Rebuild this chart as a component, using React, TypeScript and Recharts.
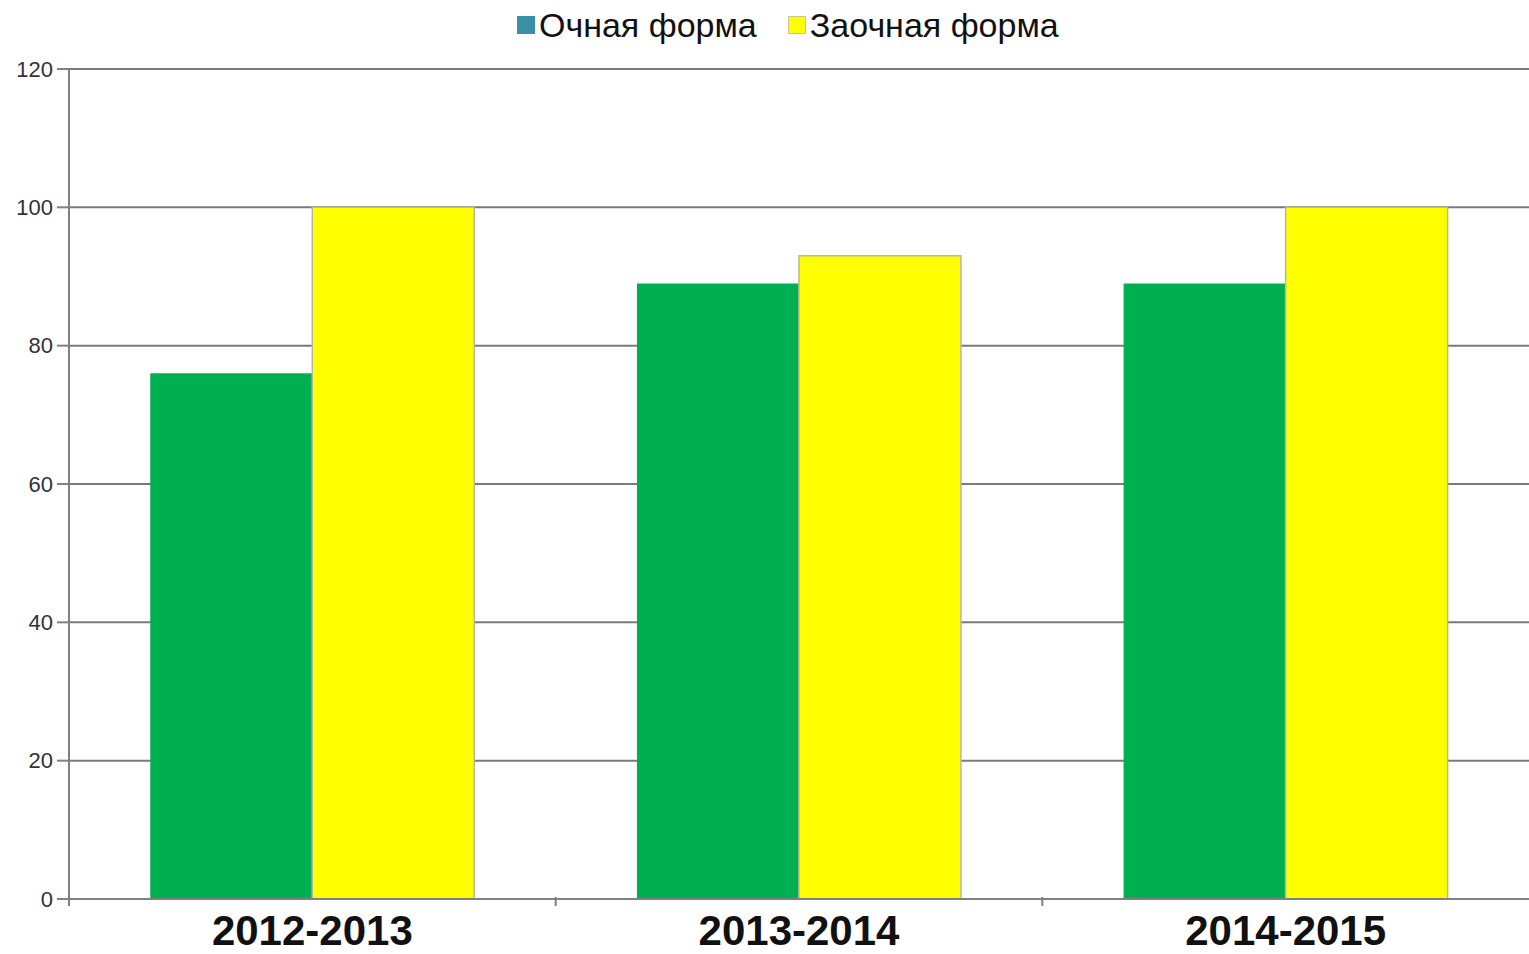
import { BarChart, Bar, XAxis, YAxis, CartesianGrid } from 'recharts';

const years = ['2012-2013', '2013-2014', '2014-2015'];
const fullTime = [76, 89, 89];
const partTime = [100, 93, 100];
const yTicks = [0, 20, 40, 60, 80, 100, 120];

const SERIES = [
  { key: 'fullTime', name: 'Очная форма', fill: '#00b050', swatch: '#3a8fa6', stroke: 'none' },
  { key: 'partTime', name: 'Заочная форма', fill: '#ffff00', swatch: '#ffff00', stroke: '#b8b8a0' },
];

const FONT = '"Liberation Sans", Arial, sans-serif';
const WIDTH = 1529;
const Y_AXIS_W = 69;
const BAND = (WIDTH - Y_AXIS_W) / years.length;

// category tick: tick mark sits on the left boundary of each band, label centered
function YearTick(props: any) {
  const { x, y, payload } = props;
  const left = x - BAND / 2;
  return (
    <g>
      <line x1={left} y1={y - 8} x2={left} y2={y + 1} stroke="#808080" strokeWidth={2} />
      <text
        x={x}
        y={y + 40}
        textAnchor="middle"
        fontSize={42}
        fontWeight="bold"
        fill="#111"
        fontFamily={FONT}
      >
        {payload.value}
      </text>
    </g>
  );
}

export default function App() {
  const data = years.map((year, i) => ({
    year,
    fullTime: fullTime[i],
    partTime: partTime[i],
  }));

  return (
    <div style={{ position: 'absolute', left: 0, top: 0, width: WIDTH, height: 954, background: '#fff', fontFamily: FONT }}>
      <div
        style={{
          position: 'absolute',
          top: 5,
          left: 517,
          display: 'flex',
          gap: 31,
          fontSize: 34,
          lineHeight: '40px',
          color: '#111',
          zIndex: 2,
          whiteSpace: 'nowrap',
        }}
      >
        {SERIES.map(s => (
          <span key={s.key} style={{ display: 'flex', alignItems: 'center' }}>
            <span
              style={{
                display: 'inline-block',
                width: 18,
                height: 18,
                background: s.swatch,
                border: s.key === 'partTime' ? '1px solid #c8c890' : 'none',
                boxSizing: 'border-box',
                marginRight: 4,
              }}
            />
            {s.name}
          </span>
        ))}
      </div>
      <BarChart
        width={WIDTH}
        height={954}
        data={data}
        margin={{ top: 69, right: 0, left: 0, bottom: 0 }}
        barCategoryGap="16.7%"
        barGap={0}
      >
        <CartesianGrid vertical={false} stroke="#7a7a7a" strokeWidth={2} />
        <XAxis
          dataKey="year"
          height={55}
          axisLine={{ stroke: '#808080', strokeWidth: 2 }}
          tickLine={false}
          interval={0}
          tick={<YearTick />}
          tickMargin={0}
        />
        <YAxis
          width={Y_AXIS_W}
          domain={[0, 120]}
          ticks={yTicks}
          interval={0}
          axisLine={{ stroke: '#808080', strokeWidth: 2 }}
          tickLine={{ stroke: '#808080', strokeWidth: 2 }}
          tickSize={12}
          tickMargin={4}
          tick={{ fontSize: 22, fill: '#333', fontFamily: FONT }}
        />
        {SERIES.map(s => (
          <Bar
            key={s.key}
            dataKey={s.key}
            name={s.name}
            fill={s.fill}
            stroke={s.stroke}
            strokeWidth={s.stroke === 'none' ? 0 : 1.5}
            isAnimationActive={false}
          />
        ))}
      </BarChart>
    </div>
  );
}
